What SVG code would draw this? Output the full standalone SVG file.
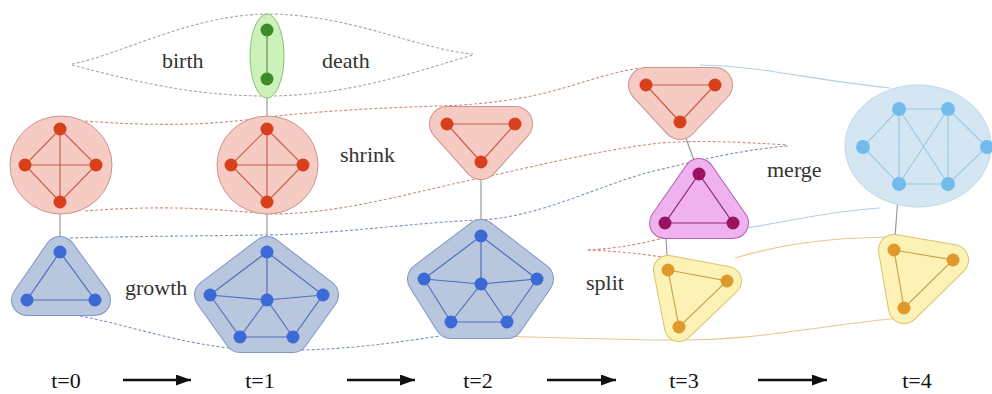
<svg xmlns="http://www.w3.org/2000/svg" width="992" height="394" viewBox="0 0 992 394">
<defs>
<style>
text{font-family:"Liberation Serif","DejaVu Serif",serif;fill:#333;}
.lbl{font-size:22px;}
.tl{font-size:22px;text-anchor:middle;fill:#111;}
.flow{fill:none;stroke-width:1.1;}
.gray{stroke:#a6a6a6;stroke-dasharray:3 2;}
.redf{stroke:#d08a7a;stroke-dasharray:3 2;}
.bluef{stroke:#7f8fc6;stroke-dasharray:3 2;}
.yelf{stroke:#e6c88e;}
.lbf{stroke:#aed2e8;}
.link{stroke:#9a9a9a;stroke-width:1.2;}
.hb,.hf{stroke-linejoin:round;}
.red .hb{fill:#c9968c;stroke:#c9968c;}
.red .hf{fill:#f6cbc3;stroke:#f6cbc3;}
.red .e{stroke:#c8604b;stroke-width:1.2;}
.red .n{fill:#d8401c;}
.blue .hb{fill:#7f96c6;stroke:#7f96c6;}
.blue .hf{fill:#b8c6de;stroke:#b8c6de;}
.blue .e{stroke:#4f70c0;stroke-width:1.2;}
.blue .n{fill:#3b6ad6;}
.mag .hb{fill:#b060b0;stroke:#b060b0;}
.mag .hf{fill:#efb2ef;stroke:#efb2ef;}
.mag .e{stroke:#8a2a70;stroke-width:1.2;}
.mag .n{fill:#9c1260;}
.yel .hb{fill:#dcc272;stroke:#dcc272;}
.yel .hf{fill:#fcf2b6;stroke:#fcf2b6;}
.yel .e{stroke:#c9a455;stroke-width:1.2;}
.yel .n{fill:#e09a2c;}
.grn .e{stroke:#5a9a4a;stroke-width:1.2;}
.grn .n{fill:#3c8c2c;}
.lb .e{stroke:#9ccbe8;stroke-width:1.2;}
.lb .n{fill:#72bbec;}
</style>
<marker id="ah" markerUnits="userSpaceOnUse" markerWidth="15" markerHeight="11" refX="15" refY="5.5" orient="auto">
<path d="M0,0 L15,5.5 L0,11 z" fill="#111"/>
</marker>
</defs>

<g id="connectors">
<path class="flow gray" d="M72,64 C120,55 190,15 267,14 C350,14 420,50 473,54"/>
<path class="flow gray" d="M72,65 C130,80 190,96 267,96 C350,96 420,70 473,55"/>
<path class="flow redf" d="M85,121 C150,126 210,126 267,117 C330,110 400,107 440,106 C500,104 540,96 580,83 C600,77 620,71 640,68"/>
<path class="flow lbf" d="M700,65 C760,66 800,78 890,88"/>
<path class="flow redf" d="M85,211 C150,206 200,207 267,214 C340,215 420,190 481,178 C540,165 600,150 660,143 C700,140 740,142 788,145"/>
<path class="flow bluef" d="M70,238 C150,236 200,236 267,235 C350,233 420,222 481,220 C540,217 600,185 650,172 C700,160 740,150 788,146"/>
<path class="flow bluef" d="M80,316 C130,325 180,345 250,350 C330,352 380,345 440,336"/>
<path class="flow yelf" d="M470,335 C560,338 620,340 680,340 C760,340 800,328 900,318"/>
<path class="flow redf" d="M588,250 C605,249 630,247 663,238"/>
<path class="flow redf" d="M588,250 C610,251 640,253 667,258"/>
<path class="flow lbf" d="M745,228 C790,222 820,212 880,208"/>
<path class="flow yelf" d="M735,258 C780,245 820,238 890,237"/>
<line class="link" x1="267" y1="79" x2="267" y2="129"/>
<line class="link" x1="60" y1="202" x2="60" y2="252"/>
<line class="link" x1="267" y1="202" x2="267" y2="252"/>
<line class="link" x1="481" y1="162" x2="481" y2="236"/>
<line class="link" x1="680" y1="122" x2="699" y2="174"/>
<line class="link" x1="665" y1="223" x2="668" y2="270"/>
<line class="link" x1="899" y1="184" x2="894" y2="250"/>
<line x1="123" y1="380" x2="191" y2="380" stroke="#111" stroke-width="2.5" marker-end="url(#ah)"/>
<line x1="347" y1="380" x2="415" y2="380" stroke="#111" stroke-width="2.5" marker-end="url(#ah)"/>
<line x1="547" y1="380" x2="616" y2="380" stroke="#111" stroke-width="2.5" marker-end="url(#ah)"/>
<line x1="758" y1="380" x2="827" y2="380" stroke="#111" stroke-width="2.5" marker-end="url(#ah)"/>
</g>

<g id="g-green" class="grn">
<ellipse cx="267" cy="56" rx="17" ry="42" fill="#cdf2b9" stroke="#86c273" stroke-width="1"/>
<line class="e" x1="267" y1="30" x2="267" y2="79"/>
<circle class="n" cx="267" cy="30" r="6.5"/><circle class="n" cx="267" cy="79" r="6.5"/>
</g>

<g id="g-red0" class="red">
<ellipse cx="61" cy="165" rx="51" ry="49" fill="#f6cbc3" stroke="#c9968c" stroke-width="1"/>
<path class="e" fill="none" d="M60,129 L96,165 L60,202 L25,165 Z M60,129 L60,202 M25,165 L96,165"/>
<circle class="n" cx="60" cy="129" r="6.5"/><circle class="n" cx="25" cy="165" r="6.5"/><circle class="n" cx="96" cy="165" r="6.5"/><circle class="n" cx="60" cy="202" r="6.5"/>
</g>

<g id="g-red1" class="red">
<ellipse cx="267.5" cy="165" rx="50.5" ry="49" fill="#f6cbc3" stroke="#c9968c" stroke-width="1"/>
<path class="e" fill="none" d="M267,129 L303,165 L267,202 L231,165 Z M267,129 L267,202 M231,165 L303,165"/>
<circle class="n" cx="267" cy="129" r="6.5"/><circle class="n" cx="231" cy="165" r="6.5"/><circle class="n" cx="303" cy="165" r="6.5"/><circle class="n" cx="267" cy="202" r="6.5"/>
</g>

<g id="g-blue0" class="blue">
<polygon class="hb" points="60,252 95,300 27,300" stroke-width="32"/>
<polygon class="hf" points="60,252 95,300 27,300" stroke-width="30"/>
<polygon class="e" fill="none" points="60,252 95,300 27,300"/>
<circle class="n" cx="60" cy="252" r="6.5"/><circle class="n" cx="95" cy="300" r="6.5"/><circle class="n" cx="27" cy="300" r="6.5"/>
</g>

<g id="g-blue1" class="blue">
<polygon class="hb" points="267,252 323,295 293,337 240,337 210,295" stroke-width="32"/>
<polygon class="hf" points="267,252 323,295 293,337 240,337 210,295" stroke-width="30"/>
<path class="e" fill="none" d="M267,252 L323,295 L293,337 L240,337 L210,295 Z M267,252 L267,300 M210,295 L267,300 L323,295 M240,337 L267,300 L293,337"/>
<circle class="n" cx="267" cy="252" r="6.5"/><circle class="n" cx="323" cy="295" r="6.5"/><circle class="n" cx="293" cy="337" r="6.5"/><circle class="n" cx="240" cy="337" r="6.5"/><circle class="n" cx="210" cy="295" r="6.5"/><circle class="n" cx="267" cy="300" r="6.5"/>
</g>

<g id="g-red2" class="red">
<polygon class="hb" points="447,124 515,124 481,162" stroke-width="36"/>
<polygon class="hf" points="447,124 515,124 481,162" stroke-width="34"/>
<polygon class="e" fill="none" points="447,124 515,124 481,162"/>
<circle class="n" cx="447" cy="124" r="6.5"/><circle class="n" cx="515" cy="124" r="6.5"/><circle class="n" cx="481" cy="162" r="6.5"/>
</g>

<g id="g-blue2" class="blue">
<polygon class="hb" points="481,236 537,279 507,322 451,322 424,279" stroke-width="34"/>
<polygon class="hf" points="481,236 537,279 507,322 451,322 424,279" stroke-width="32"/>
<path class="e" fill="none" d="M481,236 L537,279 L507,322 L451,322 L424,279 Z M481,236 L481,284 M424,279 L481,284 L537,279 M451,322 L481,284 L507,322"/>
<circle class="n" cx="481" cy="236" r="6.5"/><circle class="n" cx="537" cy="279" r="6.5"/><circle class="n" cx="507" cy="322" r="6.5"/><circle class="n" cx="451" cy="322" r="6.5"/><circle class="n" cx="424" cy="279" r="6.5"/><circle class="n" cx="481" cy="284" r="6.5"/>
</g>

<g id="g-red3" class="red">
<polygon class="hb" points="646,85 715,85 680,122" stroke-width="36"/>
<polygon class="hf" points="646,85 715,85 680,122" stroke-width="34"/>
<polygon class="e" fill="none" points="646,85 715,85 680,122"/>
<circle class="n" cx="646" cy="85" r="6.5"/><circle class="n" cx="715" cy="85" r="6.5"/><circle class="n" cx="680" cy="122" r="6.5"/>
</g>

<g id="g-mag3" class="mag">
<polygon class="hb" points="699,174 733,223 665,223" stroke-width="32"/>
<polygon class="hf" points="699,174 733,223 665,223" stroke-width="30"/>
<polygon class="e" fill="none" points="699,174 733,223 665,223"/>
<circle class="n" cx="699" cy="174" r="6.5"/><circle class="n" cx="733" cy="223" r="6.5"/><circle class="n" cx="665" cy="223" r="6.5"/>
</g>

<g id="g-yel3" class="yel">
<polygon class="hb" points="668,270 727,281 679,327" stroke-width="30"/>
<polygon class="hf" points="668,270 727,281 679,327" stroke-width="28"/>
<polygon class="e" fill="none" points="668,270 727,281 679,327"/>
<circle class="n" cx="668" cy="270" r="6.5"/><circle class="n" cx="727" cy="281" r="6.5"/><circle class="n" cx="679" cy="327" r="6.5"/>
</g>

<g id="g-lb4" class="lb">
<ellipse cx="918" cy="146" rx="73" ry="61" fill="#d3e6f1" stroke="#bedaeb" stroke-width="1"/>
<path class="e" fill="none" d="M899,109 L948,109 L987,147 L948,184 L899,184 L863,147 Z M899,109 L899,184 M948,109 L948,184 M899,109 L948,184 M948,109 L899,184"/>
<circle class="n" cx="899" cy="109" r="7"/><circle class="n" cx="948" cy="109" r="7"/><circle class="n" cx="863" cy="147" r="7"/><circle class="n" cx="987" cy="147" r="7"/><circle class="n" cx="899" cy="184" r="7"/><circle class="n" cx="948" cy="184" r="7"/>
</g>

<g id="g-yel4" class="yel">
<polygon class="hb" points="894,250 953,260 904,308" stroke-width="32"/>
<polygon class="hf" points="894,250 953,260 904,308" stroke-width="30"/>
<polygon class="e" fill="none" points="894,250 953,260 904,308"/>
<circle class="n" cx="894" cy="250" r="6.5"/><circle class="n" cx="953" cy="260" r="6.5"/><circle class="n" cx="904" cy="308" r="6.5"/>
</g>

<g id="labels">
<text class="lbl" x="162" y="68">birth</text>
<text class="lbl" x="322" y="68">death</text>
<text class="lbl" x="340" y="162">shrink</text>
<text class="lbl" x="125" y="295">growth</text>
<text class="lbl" x="767" y="177">merge</text>
<text class="lbl" x="586" y="290">split</text>
<text class="tl" x="66" y="388">t=0</text>
<text class="tl" x="260" y="388">t=1</text>
<text class="tl" x="478" y="388">t=2</text>
<text class="tl" x="684" y="388">t=3</text>
<text class="tl" x="917" y="388">t=4</text>
</g>
</svg>
